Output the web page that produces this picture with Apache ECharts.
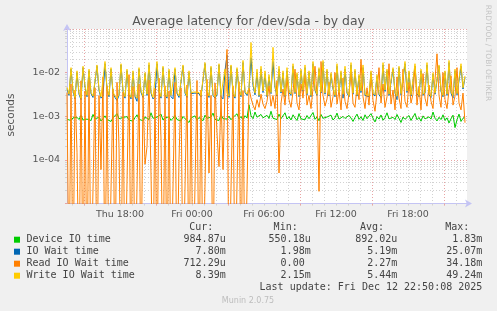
<!DOCTYPE html>
<html>
<head>
<meta charset="utf-8">
<script src="https://cdn.jsdelivr.net/npm/echarts@6.0.0/dist/echarts.min.js"></script>
<style>
  html, body { margin: 0; padding: 0; background: #f0f0f0; }
  #chart { width: 497px; height: 311px; }
</style>
</head>
<body>
<div id="chart"></div>
<script>
// time axis in hours counted from Thu 00:00, one sample every 10 minutes
const startHour = 13 + 35 / 60;
const stepHours = 10 / 60;
const spanHours = 400 / 12;

const timeLabels = { 18: 'Thu 18:00', 24: 'Fri 00:00', 30: 'Fri 06:00', 36: 'Fri 12:00', 42: 'Fri 18:00' };
const labelHours = [18, 24, 30, 36, 42];
const majorHours = [15, 21, 27, 33, 39, 45];
const minorHours = [14, 15, 16, 17, 18, 19, 20, 21, 22, 23, 24, 25, 26, 27, 28, 29, 30, 31, 32, 33, 34, 35, 36, 37, 38, 39, 40, 41, 42, 43, 44, 45, 46];

const decades = [1e-5, 1e-4, 1e-3, 1e-2, 1e-1];
const yLabelValues = [1e-4, 1e-3, 1e-2];
const minorY = [];
[1e-5, 1e-4, 1e-3, 1e-2].forEach(d => { for (let k = 2; k <= 9; k++) minorY.push(+(d * k).toPrecision(2)); });

// values in milliseconds
const deviceMs = [
  0.85, 0.78, 0.80, 0.92, 0.88, 0.95, 0.84, 1.05, 0.82, 0.90,
  0.86, 0.93, 0.80, 1.10, 0.87, 0.83, 0.95, 0.78, 0.88, 1.02,
  0.84, 0.90, 0.76, 0.92, 0.85, 1.15, 0.88, 0.80, 0.94, 0.86,
  0.98, 0.82, 0.89, 0.77, 0.93, 1.08, 0.85, 0.91, 0.79, 0.96,
  0.87, 0.84, 1.20, 0.90, 0.83, 0.95, 0.88, 1.12, 0.82, 0.92,
  0.86, 0.97, 0.80, 0.90, 1.05, 0.84, 0.93, 0.78, 0.99, 0.88,
  0.83, 0.72, 0.91, 0.86, 1.02, 0.81, 0.94, 0.87, 0.79, 1.06,
  0.90, 0.84, 0.96, 1.18, 0.85, 0.92, 0.80, 1.10, 0.88, 0.95,
  0.86, 1.00, 0.83, 0.94, 0.89, 1.14, 0.87, 0.98, 0.84, 1.03,
  0.91, 1.83, 1.02, 0.88, 1.25, 0.95, 0.86, 1.10, 0.92, 0.84,
  1.05, 0.89, 1.30, 0.90, 0.97, 0.84, 1.12, 0.88, 0.95, 1.20,
  0.86, 0.98, 0.82, 1.08, 0.91, 0.80, 1.15, 0.87, 0.94, 0.83,
  1.04, 0.88, 0.93, 1.22, 0.85, 0.97, 0.79, 1.10, 0.90, 0.84,
  0.96, 0.87, 1.06, 0.82, 0.92, 1.18, 0.86, 0.78, 0.99, 0.89,
  0.83, 1.05, 0.91, 0.76, 0.94, 1.12, 0.85, 0.97, 0.80, 1.08,
  0.88, 0.82, 1.15, 0.90, 0.74, 0.98, 0.86, 1.07, 0.81, 0.93,
  1.20, 0.87, 0.79, 0.95, 0.84, 1.10, 0.89, 0.72, 0.96, 0.85,
  0.91, 1.04, 0.80, 0.88, 1.16, 0.83, 0.94, 0.77, 1.02, 0.87,
  0.81, 0.97, 0.86, 1.25, 0.90, 0.78, 0.95, 0.84, 1.08, 0.80,
  0.92, 0.70, 0.88, 1.06, 0.55, 0.83, 1.12, 0.76, 0.90, 0.98
];

const ioWaitMs = [
  4.3, 3.0, 12, 3.8, 2.5, 10, 3.2, 2.4, 13, 4.7,
  2.8, 11, 3.3, 2.7, 2.5, 14, 3.9, 2.6, 2.9, 16,
  4.2, 2.8, 12, 3.4, 2.7, 2.3, 3.0, 15, 3.7, 2.6,
  11, 3.2, 2.5, 10, 2.8, 2.2, 12, 3.5, 2.7, 9.5,
  3.0, 15, 3.4, 2.5, 2.8, 16, 3.7, 2.6, 13, 3.1,
  2.6, 11, 2.8, 2.5, 12, 3.3, 2.7, 2.9, 14, 3.4,
  2.7, 10, 3.3, 3.2, 3.4, 3.1, 3.3, 2.8, 2.6, 16,
  3.8, 2.7, 13, 3.0, 2.6, 3.1, 15, 2.8, 2.5, 11,
  25, 2.7, 14, 3.3, 2.6, 12, 3.9, 2.8, 17, 3.5,
  3.0, 4.3, 22, 5.2, 3.1, 10, 2.8, 12, 3.5, 9.5,
  2.8, 8.0, 3.3, 18, 4.6, 2.9, 12, 3.4, 9.8, 2.8,
  11, 3.5, 3.0, 14, 3.3, 9.0, 2.8, 11, 3.7, 13,
  3.1, 10, 2.8, 16, 3.9, 3.0, 12, 3.4, 17, 3.2,
  11, 2.9, 9.2, 4.2, 2.8, 14, 3.3, 10, 2.6, 12,
  3.4, 2.8, 15, 3.2, 11, 2.9, 8.4, 3.5, 13, 3.0,
  3.2, 2.8, 10, 3.3, 2.9, 8.2, 3.1, 2.7, 15, 3.7,
  11, 3.0, 2.8, 12, 3.4, 2.4, 13, 3.1, 2.8, 16,
  3.5, 10, 2.9, 3.2, 14, 3.3, 2.8, 11, 3.0, 3.4,
  15, 3.1, 2.7, 9.2, 3.2, 2.9, 14, 3.7, 2.8, 10,
  3.0, 17, 3.4, 2.6, 11, 3.1, 2.9, 14, 4.2, 7.8
];

const readMs = [
  3.5, 0, 5.5, 0, 4.0, 0.15, 0, 6.5, 0, 3.8,
  0, 7.0, 0, 0, 4.5, 0, 3.0, 0.06, 8.0, 0,
  5.0, 0, 0, 4.2, 0, 6.0, 0.2, 0, 3.6, 0,
  0, 9.0, 0, 4.8, 0, 0, 5.5, 0, 3.2, 0.08,
  0.2, 6.8, 0.05, 0, 4.4, 0, 7.5, 0.3, 0, 5.0,
  0, 3.8, 0, 0, 6.0, 0, 0.1, 4.5, 0, 0,
  5.2, 0, 3.4, 0, 0, 6.6, 0, 4.0, 0, 0,
  7.0, 0.05, 3.0, 0, 5.8, 0.4, 0.07, 3.0, 0.06, 4.6,
  34, 0, 0, 5.0, 0, 0, 6.2, 0, 3.9, 0,
  0, 4.4, 2.6, 1.8, 1.4, 2.4, 1.6, 3.2, 1.9, 1.5,
  2.2, 5.0, 1.7, 3.0, 1.5, 6.5, 0.05, 2.0, 4.2, 1.8,
  8.0, 2.4, 1.6, 3.6, 12, 2.0, 1.4, 5.5, 2.6, 9.0,
  1.8, 3.0, 1.5, 4.4, 14, 3.0, 0.019, 18, 3.0, 1.7,
  2.5, 6.0, 1.6, 2.8, 10, 1.9, 4.0, 1.4, 7.5, 2.2,
  1.5, 3.4, 11, 2.0, 1.6, 5.0, 2.4, 20, 2.8, 1.5,
  4.5, 1.8, 9.0, 2.3, 1.3, 3.6, 13, 2.0, 5.5, 1.6,
  2.8, 16, 1.9, 4.0, 1.4, 8.0, 2.6, 1.5, 12, 2.2,
  1.6, 6.0, 2.0, 3.2, 14, 1.8, 4.8, 1.4, 9.5, 2.6,
  1.7, 5.2, 2.2, 1.5, 7.0, 27, 3.0, 1.6, 10, 2.4,
  1.5, 4.0, 8.5, 1.8, 2.9, 13, 2.0, 1.4, 3.4, 0.71
];

const writeMs = [
  4.6, 3.2, 13, 4.0, 2.7, 11, 3.4, 2.6, 14, 5.0,
  3.0, 12, 3.5, 2.9, 2.7, 15, 4.2, 2.8, 3.1, 18,
  4.5, 3.0, 13, 3.6, 2.9, 2.6, 3.2, 16, 4.0, 2.8,
  12, 3.4, 2.7, 11, 3.0, 2.6, 13, 3.8, 2.9, 10,
  3.2, 17, 3.6, 2.7, 3.0, 18, 4.0, 2.8, 14, 3.3,
  2.8, 12, 3.0, 2.7, 13, 3.5, 2.9, 3.1, 15, 3.6,
  2.9, 11, 3.5, 3.4, 3.6, 3.3, 3.5, 3.0, 2.8, 17,
  4.0, 2.9, 14, 3.2, 2.8, 3.3, 16, 3.0, 2.7, 12,
  3.4, 2.9, 15, 3.5, 2.8, 13, 4.2, 3.0, 19, 3.8,
  3.2, 4.5, 49, 6.0, 3.4, 12, 3.0, 14, 3.8, 11,
  3.0, 9.0, 3.5, 38, 5.0, 3.1, 14, 3.6, 11, 3.0,
  13, 3.8, 3.2, 16, 3.5, 10, 3.0, 12, 4.0, 15,
  3.3, 11, 3.0, 18, 4.2, 3.2, 13, 3.6, 19, 3.4,
  12, 3.1, 10, 4.5, 3.0, 16, 3.5, 11, 3.2, 14,
  3.6, 3.0, 17, 3.4, 12, 3.1, 9.0, 3.8, 15, 3.2,
  3.4, 3.0, 11, 3.5, 3.1, 9.0, 3.3, 2.9, 17, 4.0,
  12, 3.2, 3.0, 13, 3.6, 2.9, 14, 3.3, 3.0, 18,
  3.8, 11, 3.1, 3.4, 16, 3.5, 3.0, 12, 3.2, 3.6,
  17, 3.3, 2.9, 10, 3.4, 3.1, 15, 4.0, 3.0, 11,
  3.2, 19, 3.6, 3.0, 12, 3.3, 3.1, 16, 4.5, 8.4
];

const legendNames = ['Device IO time', 'IO Wait time', 'Read IO Wait time', 'Write IO Wait time'];
const legendColors = ['#00cc00', '#0066b3', '#ff8000', '#ffcc00'];
const curVals = ['984.87u', '7.80m', '712.29u', '8.39m'];
const minVals = ['550.18u', '1.98m', '0.00 ', '2.15m'];
const avgVals = ['892.02u', '5.19m', '2.27m', '5.44m'];
const maxVals = ['1.83m', '25.07m', '34.18m', '49.24m'];

// rrdtool drops zero to the bottom edge of a log graph
const floorSec = 1e-7;
const toPairs = arr => arr.map((ms, i) => [startHour + i * stepHours, ms === 0 ? floorSec : ms / 1000]);

const font = 'DejaVu Sans';
const mono = 'DejaVu Sans Mono';
const axisBlue = '#c4c4f4';
const minorGrey = '#d2d2d2';
const majorRed = '#e8a4a4';

const seriesList = [deviceMs, ioWaitMs, readMs, writeMs].map((arr, k) => ({
  name: legendNames[k],
  type: 'line',
  xAxisIndex: 0,
  yAxisIndex: 1,
  data: toPairs(arr),
  showSymbol: false,
  symbol: 'none',
  clip: true,
  lineStyle: { color: legendColors[k], width: 1 },
  itemStyle: { color: legendColors[k] },
  z: 3 + k
}));

const graphics = [];
const colRight = [[213.3, 225.7], [297.7, 310.7], [384, 397.3], [469.3, 482.3]];
const colHead = ['Cur:', 'Min:', 'Avg:', 'Max:'];
const colVals = [curVals, minVals, avgVals, maxVals];
const rowY = [239.7, 251.7, 263.7, 275.7];
const txt = (x, y, text, align, extra) => ({
  type: 'text', x: x, y: y,
  style: Object.assign({ text: text, fill: '#444', font: '10px "' + mono + '"', textAlign: align, textVerticalAlign: 'middle' }, extra || {})
});
colHead.forEach((h, c) => graphics.push(txt(colRight[c][0], 227.7, h, 'right')));
legendNames.forEach((name, r) => {
  graphics.push({ type: 'rect', shape: { x: 14, y: rowY[r] - 3, width: 6, height: 6 }, style: { fill: legendColors[r] } });
  graphics.push(txt(26.5, rowY[r], name, 'left'));
  colVals.forEach((vals, c) => graphics.push(txt(colRight[c][1], rowY[r], vals[r], 'right')));
});
graphics.push(txt(482.3, 287.7, 'Last update: Fri Dec 12 22:50:08 2025', 'right'));
graphics.push(txt(248, 300.5, 'Munin 2.0.75', 'center', { fill: '#bdbdbd', font: '8px "' + font + '"' }));
graphics.push(txt(11, 115, 'seconds', 'center', { fill: '#555', font: '10.5px "' + font + '"' }));
graphics[graphics.length - 1].rotation = Math.PI / 2;
graphics.push(txt(488, 53, 'RRDTOOL / TOBI OETIKER', 'center', { fill: '#c4c4c4', font: '7.5px "' + font + '"' }));
graphics[graphics.length - 1].rotation = -Math.PI / 2;

const chart = echarts.init(document.getElementById('chart'), null, { renderer: 'canvas' });
chart.setOption({
  backgroundColor: '#f0f0f0',
  animation: false,
  title: {
    text: 'Average latency for /dev/sda - by day',
    left: 'center', top: 11,
    textStyle: { fontFamily: font, fontSize: 12.4, fontWeight: 'normal', color: '#555' }
  },
  grid: { left: 67, top: 29, width: 400, height: 174.5, show: true, backgroundColor: '#ffffff', borderWidth: 0 },
  xAxis: [
    {
      type: 'value', min: startHour, max: startHour + spanHours, position: 'bottom',
      axisLine: { show: true, lineStyle: { color: axisBlue, width: 1 }, symbol: ['none', 'arrow'], symbolSize: [6, 7], symbolOffset: [0, 5] },
      axisTick: { show: true, customValues: minorHours, length: 2, lineStyle: { color: minorGrey } },
      splitLine: { show: true, lineStyle: { color: minorGrey, type: [1, 2], width: 1 } },
      axisLabel: {
        customValues: labelHours, margin: 6, color: '#555', fontFamily: font, fontSize: 9.5,
        formatter: v => timeLabels[Math.round(v)] || ''
      }
    },
    {
      type: 'value', min: startHour, max: startHour + spanHours, position: 'bottom',
      axisLine: { show: false },
      axisTick: { show: true, customValues: majorHours, length: 2, lineStyle: { color: majorRed } },
      splitLine: { show: true, lineStyle: { color: majorRed, type: [1, 2], width: 1 } },
      axisLabel: { show: false }
    }
  ],
  yAxis: [
    {
      type: 'log', logBase: 10, min: 1e-5, max: 1e-1, position: 'left',
      axisLine: { show: false },
      axisTick: { show: true, customValues: minorY, length: 2, lineStyle: { color: minorGrey } },
      splitLine: { show: true, lineStyle: { color: minorGrey, type: [1, 2], width: 1 } },
      axisLabel: { show: false }
    },
    {
      type: 'log', logBase: 10, min: 1e-5, max: 1e-1, position: 'left',
      axisLine: { show: true, lineStyle: { color: axisBlue, width: 1 }, symbol: ['none', 'arrow'], symbolSize: [6, 7], symbolOffset: [0, 5] },
      axisTick: { show: true, customValues: decades, length: 2, lineStyle: { color: majorRed } },
      splitLine: { show: true, lineStyle: { color: majorRed, type: [1, 2], width: 1 } },
      axisLabel: {
        customValues: yLabelValues, margin: 7, color: '#555', fontFamily: font, fontSize: 9.5,
        formatter: v => v.toExponential(0).replace(/e([+-])(\d)$/, 'e$10$2')
      }
    }
  ],
  series: seriesList,
  graphic: graphics
});
</script>
</body>
</html>
